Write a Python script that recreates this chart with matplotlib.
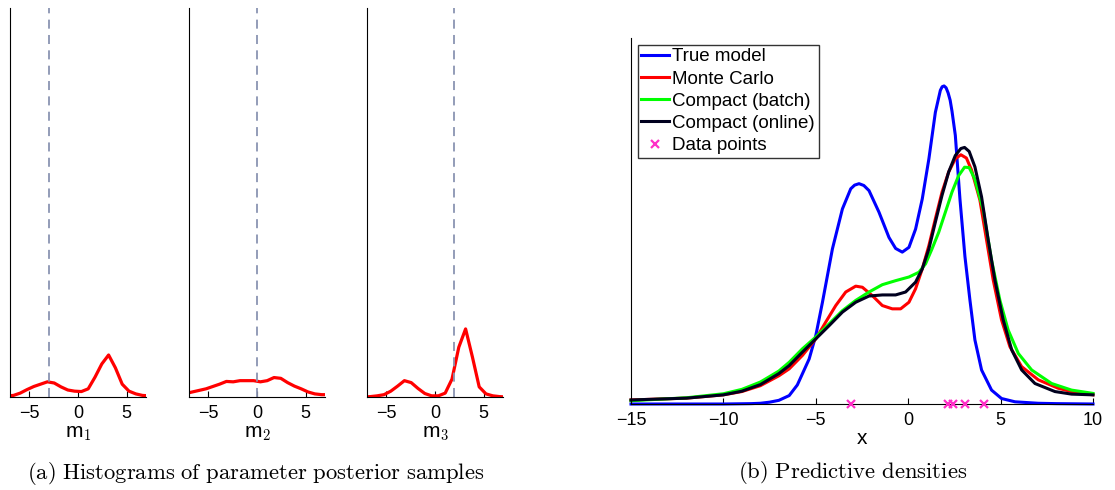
import numpy as np
import matplotlib
matplotlib.use("Agg")
import matplotlib.pyplot as plt

plt.rcParams['font.family'] = ['Liberation Sans', 'DejaVu Sans']
plt.rcParams['mathtext.fontset'] = 'cm'

# ---- left: histograms of parameter posterior samples (bin centres, heights) ----
bin_centres = [-7.35, -6.65, -5.95, -5.25, -4.55, -3.85, -3.15, -2.45, -1.75, -1.05, -0.35,
               0.35, 1.05, 1.75, 2.45, 3.15, 3.85, 4.55, 5.25, 5.95, 6.65, 7.35]
hist_m1 = [0.003, 0.004, 0.010, 0.019, 0.027, 0.033, 0.039, 0.036, 0.026, 0.018, 0.015,
           0.014, 0.021, 0.051, 0.085, 0.108, 0.075, 0.033, 0.015, 0.008, 0.004, 0.003]
hist_m2 = [0.009, 0.013, 0.017, 0.021, 0.027, 0.033, 0.040, 0.039, 0.042, 0.042, 0.042,
           0.039, 0.042, 0.050, 0.048, 0.037, 0.028, 0.021, 0.013, 0.008, 0.006, 0.006]
hist_m3 = [0.000, 0.001, 0.003, 0.006, 0.015, 0.028, 0.042, 0.037, 0.022, 0.009, 0.003,
           0.003, 0.010, 0.046, 0.128, 0.175, 0.103, 0.026, 0.008, 0.003, 0.001, 0.000]
true_means = [-3, 0, 2]
hist_labels = ['m$_{\\mathsf{1}}$', 'm$_{\\mathsf{2}}$', 'm$_{\\mathsf{3}}$']

# ---- right: predictive densities ----
true_x = [-15, -10, -8.5, -8, -7.5, -7, -6.44, -6, -5.36, -5.0, -4.64, -4.1, -3.56, -3.11,
          -2.9, -2.66, -2.4, -2.12, -1.58, -1.04, -0.68, -0.32, 0.04, 0.4, 0.76, 1.12, 1.47,
          1.74, 1.84, 1.94, 2.05, 2.16, 2.27, 2.37, 2.55, 2.8, 3.07, 3.34, 3.61, 3.97, 4.51,
          5.05, 5.78, 7.04, 8, 10]
true_y = [0, 0, 0.001, 0.002, 0.005, 0.01, 0.023, 0.052, 0.123, 0.187, 0.278, 0.424, 0.533,
          0.588, 0.598, 0.602, 0.597, 0.583, 0.524, 0.455, 0.425, 0.415, 0.428, 0.478, 0.56,
          0.67, 0.797, 0.857, 0.867, 0.869, 0.864, 0.85, 0.83, 0.8, 0.734, 0.56, 0.403, 0.284,
          0.175, 0.093, 0.038, 0.015, 0.006, 0.002, 0.001, 0]

mc_x = [-15, -12, -10, -9, -8, -7, -6.44, -5.72, -5.0, -4.46, -3.92, -3.38, -2.84, -2.48,
        -1.94, -1.4, -0.86, -0.41, 0.04, 0.4, 0.76, 1.12, 1.47, 1.83, 2.19, 2.55, 2.85, 3.15,
        3.43, 3.88, 4.24, 4.6, 5.05, 5.5, 6.14, 7.04, 8.12, 9, 10]
mc_y = [0.011, 0.016, 0.025, 0.034, 0.05, 0.077, 0.096, 0.133, 0.178, 0.224, 0.269, 0.306,
        0.322, 0.319, 0.296, 0.269, 0.26, 0.26, 0.278, 0.315, 0.369, 0.433, 0.506, 0.579,
        0.634, 0.67, 0.681, 0.672, 0.639, 0.557, 0.448, 0.339, 0.23, 0.157, 0.102, 0.066,
        0.043, 0.032, 0.025]

batch_x = [-15, -12, -10, -9, -8, -7, -6.44, -5.72, -5.0, -4.28, -3.56, -2.84, -2.12, -1.4,
           -0.68, 0.04, 0.58, 0.94, 1.29, 1.65, 2.01, 2.37, 2.73, 3.05, 3.3, 3.6, 4.06, 4.51,
           4.96, 5.41, 5.96, 6.68, 7.76, 8.84, 10]
batch_y = [0.009, 0.017, 0.028, 0.04, 0.06, 0.09, 0.114, 0.151, 0.183, 0.219, 0.255, 0.283,
           0.306, 0.326, 0.337, 0.347, 0.36, 0.383, 0.424, 0.469, 0.524, 0.579, 0.624, 0.647,
           0.646, 0.615, 0.53, 0.393, 0.284, 0.202, 0.138, 0.093, 0.056, 0.038, 0.029]

online_x = [-15, -12, -10, -9, -8, -7, -6.44, -5.72, -5.0, -4.28, -3.56, -2.84, -2.12, -1.4,
            -0.68, -0.14, 0.4, 0.76, 1.12, 1.47, 1.83, 2.19, 2.55, 2.85, 3.05, 3.3, 3.61, 3.97,
            4.33, 4.69, 5.14, 5.6, 6.14, 6.86, 7.94, 8.84, 10]
online_y = [0.011, 0.016, 0.025, 0.035, 0.053, 0.083, 0.105, 0.142, 0.178, 0.214, 0.251,
            0.278, 0.295, 0.298, 0.298, 0.306, 0.333, 0.369, 0.424, 0.497, 0.57, 0.634, 0.679,
            0.698, 0.701, 0.69, 0.648, 0.566, 0.448, 0.339, 0.23, 0.148, 0.093, 0.056, 0.034,
            0.027, 0.025]

data_points = [-3.1, 2.17, 2.45, 3.05, 4.1]

W, H = 1115, 490
fig = plt.figure(figsize=(W / 100, H / 100), dpi=100)

hists = [hist_m1, hist_m2, hist_m3]
lefts = [10, 189, 367]
for i in range(3):
    ax = fig.add_axes([lefts[i] / W, 93 / H, 136 / W, 389 / H])
    ax.plot(bin_centres, hists[i], color='#ff0000', lw=2.3)
    ax.axvline(true_means[i], color='#8a94b2', lw=1.3, ls=(0, (5, 3.5)))
    ax.set_xlim(-7, 7)
    ax.set_ylim(0, 1)
    ax.set_xticks([-5, 0, 5])
    ax.set_yticks([])
    ax.spines['top'].set_visible(False)
    ax.spines['right'].set_visible(False)
    ax.tick_params(axis='x', direction='in', length=4, labelsize=13, pad=6)
    ax.set_xlabel(hist_labels[i], fontsize=15, labelpad=1.5)

axr = fig.add_axes([631 / W, 86 / H, 462 / W, 366 / H])
axr.plot(true_x, true_y, color='#0000ff', lw=2.2, label='True model', clip_on=False)
axr.plot(mc_x, mc_y, color='#ff0000', lw=2.2, label='Monte Carlo', clip_on=False)
axr.plot(batch_x, batch_y, color='#00ff00', lw=2.2, label='Compact (batch)', clip_on=False)
axr.plot(online_x, online_y, color='#00001e', lw=2.2, label='Compact (online)', clip_on=False)
axr.plot(data_points, np.zeros(len(data_points)), 'x', color='#ff2fc8', ms=5.5, mew=1.6,
         label='Data points', clip_on=False, zorder=5)
axr.set_xlim(-15, 10)
axr.set_ylim(0, 1)
axr.set_xticks([-15, -10, -5, 0, 5, 10])
axr.set_yticks([])
axr.spines['top'].set_visible(False)
axr.spines['right'].set_visible(False)
axr.tick_params(axis='x', direction='in', length=4, labelsize=13, pad=6)
axr.set_xlabel('x', fontsize=15, labelpad=0)
leg = axr.legend(loc='upper left', fontsize=13.5, frameon=True, fancybox=False,
                 edgecolor='black', handlelength=1.5, handletextpad=0.15, labelspacing=0.27,
                 borderpad=0.2, borderaxespad=0.35, numpoints=1)
leg.get_frame().set_linewidth(1.0)

fig.text(256 / W, 1 - 473 / H, r'$\mathrm{(a)\ Histograms\ of\ parameter\ posterior\ samples}$',
         ha='center', va='center', fontsize=16.3)
fig.text(853 / W, 1 - 472 / H, r'$\mathrm{(b)\ Predictive\ densities}$',
         ha='center', va='center', fontsize=16.3)

fig.savefig('out.png', dpi=100)
